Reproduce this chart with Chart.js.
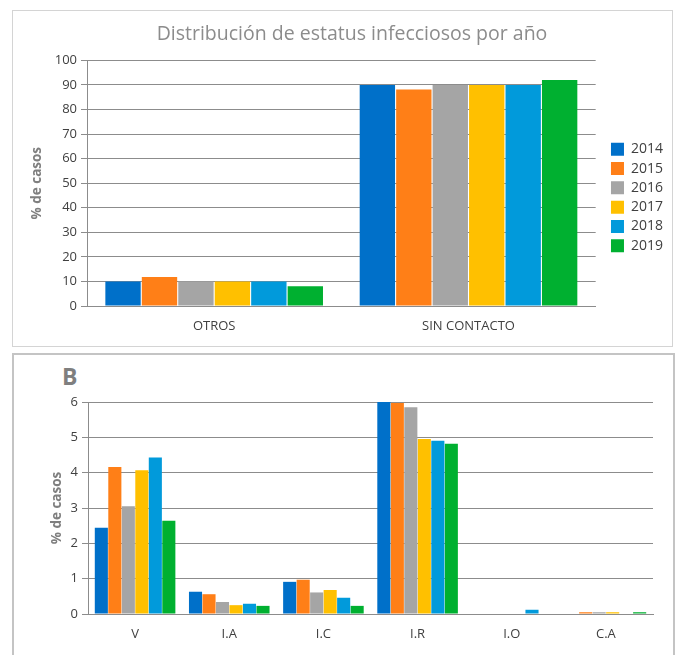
<!DOCTYPE html>
<html>
<head>
<meta charset="utf-8">
<script src="https://cdn.jsdelivr.net/npm/chart.js@4"></script>
<style>
  html, body { margin: 0; padding: 0; background: #fff; width: 678px; height: 655px; overflow: hidden; }
  .panel { position: absolute; box-sizing: border-box; background: #fff; }
  #panelA { left: 12px; top: 10px; width: 661px; height: 337px; border: 1px solid #d4d4d4; }
  #panelB { left: 12px; top: 353px; width: 663px; height: 310px; border: 2px solid #c4c4c4; border-bottom: none; }
  #panelA canvas, #panelB canvas { position: absolute; left: 0; top: 0; }
  #labelB { position: absolute; left: 48px; top: 5px; font: bold 23px "Open Sans", sans-serif; color: #7f7f7f; }
</style>
</head>
<body>
<div class="panel" id="panelA"><canvas id="chartA" width="659" height="335"></canvas></div>
<div class="panel" id="panelB"><div id="labelB">B</div><canvas id="chartB" width="659" height="300"></canvas></div>
<script>
// datos del gráfico
const years = ['2014', '2015', '2016', '2017', '2018', '2019'];
const colors = ['#0070c9', '#ff7f17', '#a5a5a5', '#ffc000', '#019adb', '#00b030'];

// panel A: estatus por año
const catsA = ['OTROS', 'SIN CONTACTO'];
const a2014 = [10, 90];
const a2015 = [11.8, 88.2];
const a2016 = [10, 90];
const a2017 = [10, 90];
const a2018 = [10, 90];
const a2019 = [8, 92];

// panel B: detalle de infecciones
const catsB = ['V', 'I.A', 'I.C', 'I.R', 'I.O', 'C.A'];
const b2014 = [2.44, 0.63, 0.91, 6.0, 0, 0];
const b2015 = [4.16, 0.56, 0.97, 5.97, 0, 0.05];
const b2016 = [3.05, 0.34, 0.61, 5.85, 0, 0.05];
const b2017 = [4.07, 0.25, 0.68, 4.95, 0, 0.05];
const b2018 = [4.43, 0.29, 0.46, 4.9, 0.12, 0];
const b2019 = [2.64, 0.23, 0.23, 4.82, 0, 0.05];

const FONT = '"Open Sans", "DejaVu Sans", sans-serif';
const gridColor = '#8c8c8c';

// mover la leyenda un poco (como en el original)
const legendOffset = {
  id: 'legendOffset',
  afterLayout(chart, args, opts) {
    const lg = chart.legend;
    if (!lg || !lg.options.display) return;
    lg.left += opts.dx || 0; lg.right += opts.dx || 0;
    lg.top += opts.dy || 0; lg.bottom += opts.dy || 0;
  }
};

function makeSets(series) {
  return series.map((vals, i) => ({
    label: years[i],
    data: vals,
    backgroundColor: colors[i],
    borderWidth: 0,
    categoryPercentage: 0.86,
    barPercentage: 0.97
  }));
}

function yScale(max, step, width, titleOffset) {
  return {
    min: 0, max: max,
    ticks: { stepSize: step, color: '#404040', font: { family: FONT, size: 13 }, padding: 4 },
    grid: { color: gridColor, tickLength: 6, lineWidth: 1 },
    border: { color: gridColor, width: 1 },
    title: { display: true, text: '% de casos', color: '#7f7f7f', font: { family: FONT, size: 13.5, weight: 'bold' }, padding: { top: titleOffset, bottom: 0 } },
    afterFit: (s) => { s.width = width; }
  };
}

function xScale(height) {
  return {
    grid: { display: false },
    border: { color: gridColor, width: 1 },
    ticks: { color: '#404040', font: { family: FONT, size: 13 }, padding: 4 },
    afterFit: (s) => { s.height = height; }
  };
}

new Chart(document.getElementById('chartA'), {
  type: 'bar',
  data: { labels: catsA, datasets: makeSets([a2014, a2015, a2016, a2017, a2018, a2019]) },
  plugins: [legendOffset],
  options: {
    responsive: false,
    animation: false,
    layout: { padding: { left: 28, right: 9, top: 0, bottom: 0 } },
    plugins: {
      title: {
        display: true,
        text: 'Distribución de estatus infecciosos por año',
        color: '#8c8c8c',
        font: { family: FONT, size: 19.5, weight: 'normal' },
        padding: { top: 12, bottom: 14 }
      },
      legend: {
        position: 'right',
        labels: { boxWidth: 13, boxHeight: 13, color: '#404040', font: { family: FONT, size: 14 }, padding: 5.3 }
      },
      legendOffset: { dx: 10, dy: 19 },
      tooltip: { enabled: false }
    },
    scales: { x: xScale(40), y: yScale(100, 10, 46, -12) }
  }
});

new Chart(document.getElementById('chartB'), {
  type: 'bar',
  data: { labels: catsB, datasets: makeSets([b2014, b2015, b2016, b2017, b2018, b2019]) },
  options: {
    responsive: false,
    animation: false,
    layout: { padding: { left: 0, right: 20, top: 47, bottom: 0 } },
    plugins: { legend: { display: false }, title: { display: false }, tooltip: { enabled: false } },
    scales: { x: xScale(41), y: yScale(6, 1, 74, 35) }
  }
});
</script>
</body>
</html>
